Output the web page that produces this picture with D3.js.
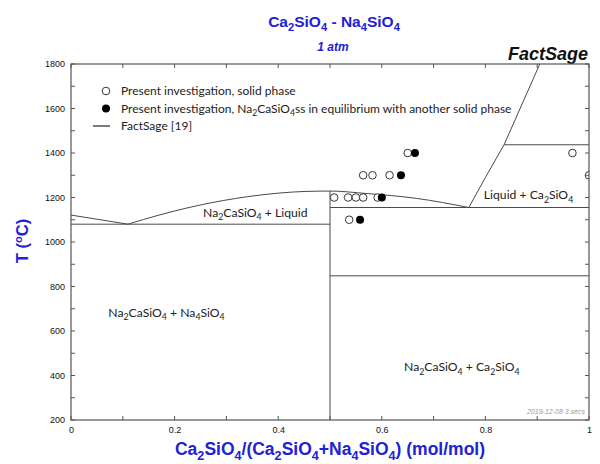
<!DOCTYPE html>
<html>
<head>
<meta charset="utf-8">
<script src="https://cdn.jsdelivr.net/npm/d3@7"></script>
<style>
  body { margin: 0; background: #fff; }
  svg { display: block; }
</style>
</head>
<body>
<div id="chart"></div>
<script>
// tick labels
const xTicks = [0, 0.2, 0.4, 0.6, 0.8, 1];
const yTicks = [200, 400, 600, 800, 1000, 1200, 1400, 1600, 1800];

// phase boundaries, [x, T]
const liquidusNa4 = [[0, 1121], [0.11, 1080]];
const liquidusNa2Ca = [[0.11, 1080], [0.17, 1121], [0.27, 1176], [0.365, 1211], [0.45, 1227],
                       [0.5, 1229], [0.57, 1218], [0.667, 1196], [0.768, 1155]];
const liquidusCa2 = [[0.768, 1155], [0.80, 1290], [0.836, 1437], [0.905, 1800]];
const eutecticLeft = [[0, 1080], [0.5, 1080]];
const peritecticRight = [[0.5, 1155], [1, 1155]];
const transitionHigh = [[0.836, 1437], [1, 1437]];
const transitionLow = [[0.5, 848], [1, 848]];
const compoundLine = [[0.5, 200], [0.5, 1229]];

// experiments
const openPoints = [[0.65, 1400], [0.564, 1300], [0.582, 1300], [0.615, 1300],
                    [0.508, 1200], [0.535, 1200], [0.55, 1200], [0.564, 1200], [0.592, 1200],
                    [0.537, 1100], [0.968, 1400], [1.0, 1300]];
const filledPoints = [[0.664, 1400], [0.637, 1300], [0.6, 1200], [0.558, 1100]];

const W = 600, H = 464;
const x = d3.scaleLinear().domain([0, 1]).range([71, 589]);
const y = d3.scaleLinear().domain([200, 1800]).range([420, 64]);

const blue = "#2121d6";
const axisCol = "#555";
const lineCol = "#4a4a4a";
const arial = "Liberation Sans, Arial, sans-serif";

const svg = d3.select("#chart").append("svg")
    .attr("width", W).attr("height", H);

// text with _n subscripts; the shift back is put on the next piece of text
function richText(sel, str, fs) {
    const sh = Math.round(fs * 0.28 * 10) / 10;
    let back = 0;
    str.split(/(_\d)/).forEach(p => {
        if (!p) return;
        if (p[0] === "_") {
            sel.append("tspan").attr("dy", sh - back).attr("font-size", fs * 0.72).text(p[1]);
            back = sh;
        } else {
            const t = sel.append("tspan").text(p);
            if (back) t.attr("dy", -back);
            back = 0;
        }
    });
    return sel;
}

// title block
richText(svg.append("text")
    .attr("x", 334).attr("y", 27)
    .attr("text-anchor", "middle")
    .attr("font-family", arial)
    .attr("font-weight", "bold").attr("font-size", 15.5)
    .attr("fill", blue), "Ca_2SiO_4 - Na_4SiO_4", 15.5);

svg.append("text")
    .attr("x", 333).attr("y", 51)
    .attr("text-anchor", "middle")
    .attr("font-family", arial)
    .attr("font-weight", "bold").attr("font-style", "italic").attr("font-size", 12)
    .attr("fill", blue).text("1 atm");

svg.append("text")
    .attr("x", 588).attr("y", 60)
    .attr("text-anchor", "end")
    .attr("font-family", arial)
    .attr("font-weight", "bold").attr("font-style", "italic").attr("font-size", 18)
    .attr("fill", "#111").text("FactSage");

// clip for plot content
svg.append("clipPath").attr("id", "plotClip")
    .append("rect").attr("x", 71).attr("y", 64).attr("width", 518).attr("height", 356);

const plot = svg.append("g").attr("clip-path", "url(#plotClip)");

const line = d3.line().x(d => x(d[0])).y(d => y(d[1]));
const smooth = d3.line().x(d => x(d[0])).y(d => y(d[1])).curve(d3.curveMonotoneX);

[liquidusNa4, eutecticLeft, peritecticRight, transitionHigh, transitionLow, compoundLine, liquidusCa2]
    .forEach(seg => {
        plot.append("path").attr("d", line(seg))
            .attr("fill", "none").attr("stroke", lineCol).attr("stroke-width", 1);
    });
plot.append("path").attr("d", smooth(liquidusNa2Ca))
    .attr("fill", "none").attr("stroke", lineCol).attr("stroke-width", 1);

// points
plot.selectAll(".open").data(openPoints).enter().append("circle")
    .attr("class", "open")
    .attr("cx", d => x(d[0])).attr("cy", d => y(d[1])).attr("r", 3.8)
    .attr("fill", "#fff").attr("stroke", "#222").attr("stroke-width", 0.9);
plot.selectAll(".filled").data(filledPoints).enter().append("circle")
    .attr("class", "filled")
    .attr("cx", d => x(d[0])).attr("cy", d => y(d[1])).attr("r", 4)
    .attr("fill", "#000");

// region labels
const labelFont = "Lato, 'Open Sans', sans-serif";
const regionLabels = [
    {t: "Na_2CaSiO_4 + Liquid", x: 0.255, T: 1113},
    {t: "Liquid + Ca_2SiO_4", x: 0.797, T: 1192},
    {t: "Na_2CaSiO_4 + Na_4SiO_4", x: 0.072, T: 665},
    {t: "Na_2CaSiO_4 + Ca_2SiO_4", x: 0.643, T: 418}
];
regionLabels.forEach(l => {
    richText(plot.append("text")
        .attr("x", x(l.x)).attr("y", y(l.T))
        .attr("font-family", labelFont).attr("font-size", 12.2)
        .attr("fill", "#222"), l.t, 12.2);
});

// axes frame and ticks
const frame = svg.append("g");
frame.append("rect").attr("x", 71).attr("y", 64).attr("width", 518).attr("height", 356)
    .attr("fill", "none").attr("stroke", axisCol).attr("stroke-width", 1.2);

const bottomAxis = d3.axisBottom(x).tickValues(xTicks).tickSize(0).tickPadding(7)
    .tickFormat(d => d === 0 || d === 1 ? d3.format("d")(d) : d3.format(".1f")(d));
const gx = svg.append("g").attr("transform", "translate(0,420)").call(bottomAxis);
gx.select(".domain").remove();
gx.selectAll("text").attr("font-family", arial)
    .attr("font-size", 9).attr("fill", "#111");

const leftAxis = d3.axisLeft(y).tickValues(yTicks).tickSize(0).tickPadding(6)
    .tickFormat(d3.format("d"));
const gy = svg.append("g").attr("transform", "translate(71,0)").call(leftAxis);
gy.select(".domain").remove();
gy.selectAll("text").attr("font-family", arial)
    .attr("font-size", 9).attr("fill", "#111");

// inward ticks, every 0.1 and every 100 degC
const xMinor = x.ticks(10), yMinor = y.ticks(16);
const tl = 4;
frame.selectAll(".xtb").data(xMinor).enter().append("line")
    .attr("x1", d => x(d)).attr("x2", d => x(d)).attr("y1", 420).attr("y2", 420 - tl)
    .attr("stroke", axisCol);
frame.selectAll(".xtt").data(xMinor).enter().append("line")
    .attr("x1", d => x(d)).attr("x2", d => x(d)).attr("y1", 64).attr("y2", 64 + tl)
    .attr("stroke", axisCol);
frame.selectAll(".ytl").data(yMinor).enter().append("line")
    .attr("x1", 71).attr("x2", 71 + tl).attr("y1", d => y(d)).attr("y2", d => y(d))
    .attr("stroke", axisCol);
frame.selectAll(".ytr").data(yMinor).enter().append("line")
    .attr("x1", 589).attr("x2", 589 - tl).attr("y1", d => y(d)).attr("y2", d => y(d))
    .attr("stroke", axisCol);

// axis titles
richText(svg.append("text")
    .attr("x", 330).attr("y", 455)
    .attr("text-anchor", "middle")
    .attr("font-family", arial)
    .attr("font-weight", "bold").attr("font-size", 17.5)
    .attr("fill", blue), "Ca_2SiO_4/(Ca_2SiO_4+Na_4SiO_4) (mol/mol)", 17.5);

const yt = svg.append("text")
    .attr("transform", "translate(28,241) rotate(-90)")
    .attr("text-anchor", "middle")
    .attr("font-family", arial)
    .attr("font-weight", "bold").attr("font-size", 16.5)
    .attr("fill", blue);
yt.append("tspan").text("T (");
yt.append("tspan").attr("dy", -6).attr("font-size", 11).text("o");
yt.append("tspan").attr("dy", 6).text("C)");

// legend
const lfs = 12;
const legend = svg.append("g").attr("font-family", labelFont).attr("font-size", lfs).attr("fill", "#222");
legend.append("circle").attr("cx", 106).attr("cy", 91).attr("r", 3.8)
    .attr("fill", "#fff").attr("stroke", "#222").attr("stroke-width", 0.9);
legend.append("text").attr("x", 121).attr("y", 95).text("Present investigation, solid phase");
legend.append("circle").attr("cx", 106).attr("cy", 108.5).attr("r", 4).attr("fill", "#000");
richText(legend.append("text").attr("x", 121).attr("y", 112.5),
    "Present investigation, Na_2CaSiO_4ss in equilibrium with another solid phase", lfs);
legend.append("line").attr("x1", 93).attr("x2", 110).attr("y1", 126).attr("y2", 126)
    .attr("stroke", "#222").attr("stroke-width", 1.2);
legend.append("text").attr("x", 121).attr("y", 130).text("FactSage [19]");

// date stamp
svg.append("text").attr("x", 585).attr("y", 414).attr("text-anchor", "end")
    .attr("font-family", arial)
    .attr("font-style", "italic").attr("font-size", 7).attr("fill", "#999")
    .text("2019-12-08  3 secs");
</script>
</body>
</html>
